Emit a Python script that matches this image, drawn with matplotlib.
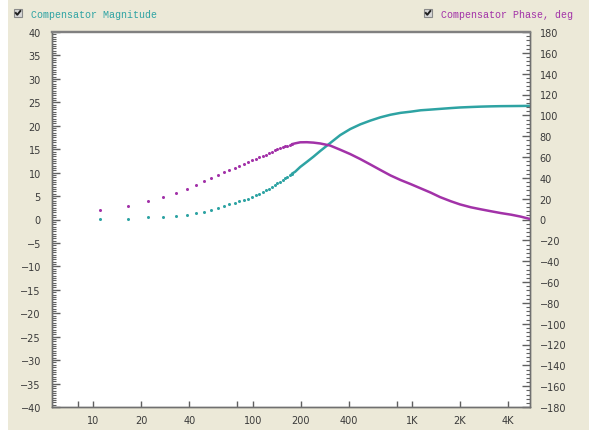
import matplotlib
matplotlib.use("Agg")
import matplotlib.pyplot as plt
from matplotlib.patches import Rectangle
from matplotlib.lines import Line2D

# ---------------- data ----------------
# discrete low-frequency samples (Hz)
freq_dots = [11, 16.5, 22, 27.5, 33, 38.5, 44, 49.5, 55, 60.5, 66, 71.5, 77, 82.5,
             88, 93.5, 99, 104.5, 110, 115.5, 121, 126.5, 132, 137.5, 143,
             148.5, 154, 159.5, 165, 170.5, 176]
mag_dots = [0.1, 0.1, 0.47, 0.6, 0.81, 0.96, 1.32, 1.68, 2.05, 2.5, 2.94, 3.25, 3.55, 3.85,
            4.12, 4.42, 4.8, 5.15, 5.5, 5.87, 6.2, 6.55, 6.9, 7.3, 7.7,
            8.05, 8.4, 8.76, 9.1, 9.42, 9.75]
phase_dots = [9.4, 13.2, 18.0, 21.7, 25.3, 29.4, 33.2, 37.0, 40.3, 42.9, 45.6, 47.4, 49.5, 51.4,
              53.2, 55.0, 56.8, 58.1, 59.7, 61.1, 62.4, 63.9, 65.2, 66.4, 67.5,
              68.6, 69.4, 70.2, 71.0, 71.7, 72.3]

# dense part (samples merge into a solid curve)
freq_line = [176, 184.7, 198.6, 218.8, 240.6, 265, 306.1, 354, 409.5,
             473.6, 547.7, 633.4, 732.6, 847.2, 980, 1133, 1310, 1500, 1753, 2000, 2344,
             2700, 3135, 3600, 4193, 4800, 5500]
mag_line = [9.75, 10.19, 11.2, 12.3, 13.4, 14.6, 16.3, 18.0, 19.3,
            20.3, 21.1, 21.8, 22.35, 22.75, 23.0, 23.3, 23.45, 23.6, 23.77, 23.9, 24.0,
            24.08, 24.14, 24.18, 24.2, 24.22, 24.25]
phase_line = [72.3, 73.1, 74.1, 74.2, 73.8, 73.0, 71.0, 67.0, 62.8,
              58.0, 52.8, 47.5, 42.3, 37.9, 34.0, 29.9, 25.8, 21.5, 17.5, 14.5, 11.7,
              9.8, 7.9, 6.2, 4.6, 2.8, 0.5]

x_ticks = [8, 10, 20, 40, 80, 100, 200, 400, 800, 1000, 2000, 4000]
x_labels = ["", "10", "20", "40", "", "100", "200", "400", "", "1K", "2K", "4K"]
mag_ticks = list(range(-40, 41, 5))
phase_ticks = list(range(-180, 181, 20))
title_mag = "Compensator Magnitude"
title_phase = "Compensator Phase, deg"

TEAL = "#2ea3a3"
PURPLE = "#a232a8"
BG = "#ece9d8"
TXT = "#3a3a3a"

W, H = 589, 431
fig = plt.figure(figsize=(W / 100, H / 100), dpi=100, facecolor="white")
fig.patches.append(Rectangle((8 / W, 0), 1 - 8 / W, 1, transform=fig.transFigure,
                             facecolor=BG, edgecolor="none", zorder=-10))

L, R, T, B = 52, 530, 33, 408
ax = fig.add_axes([L / W, 1 - B / H, (R - L) / W, (B - T) / H])
ax.set_facecolor("white")
ax.set_xscale("log")
ax.set_xlim(5.5, 5500)
ax.set_ylim(-40, 40)
ax2 = ax.twinx()
ax2.set_ylim(-180, 180)

# curves
ax.plot(freq_dots, mag_dots, linestyle="none", marker="o", markersize=2.2,
        markeredgewidth=0, color=TEAL, zorder=3)
ax.plot(freq_line, mag_line, color=TEAL, linewidth=1.8, zorder=3, solid_capstyle="round",
        solid_joinstyle="round")
ax2.plot(freq_dots, phase_dots, linestyle="none", marker="o", markersize=2.2,
         markeredgewidth=0, color=PURPLE, zorder=3)
ax2.plot(freq_line, phase_line, color=PURPLE, linewidth=1.8, zorder=3, solid_capstyle="round",
         solid_joinstyle="round")

# x axis
ax.set_xticks(x_ticks)
ax.set_xticklabels(x_labels)
ax.xaxis.set_minor_locator(matplotlib.ticker.NullLocator())
ax.tick_params(axis="x", direction="in", length=4, width=1, color="#606060",
               labelsize=7, labelcolor=TXT, pad=6)

# left axis
ax.set_yticks(mag_ticks)
ax.set_yticks([v / 2 for v in range(-80, 81)], minor=True)
ax.tick_params(axis="y", which="major", direction="in", length=6, width=1, color="#606060",
               labelsize=7, labelcolor=TXT, pad=8)
ax.tick_params(axis="y", which="minor", direction="in", length=3, width=0.8, color="#606060")

# right axis
ax2.set_yticks(phase_ticks)
ax2.set_yticks(list(range(-180, 181, 4)), minor=True)
ax2.tick_params(axis="y", which="major", direction="in", length=6, width=1, color="#606060",
                labelsize=7, labelcolor=TXT, pad=7)
ax2.tick_params(axis="y", which="minor", direction="in", length=3, width=0.8, color="#606060")
for lab in ax2.get_yticklabels():
    lab.set_horizontalalignment("left")

for a in (ax, ax2):
    for s in ("left", "right", "bottom"):
        a.spines[s].set_color("#707070")
        a.spines[s].set_linewidth(1.0)
    a.spines["top"].set_color("#808080")
    a.spines["top"].set_linewidth(1.6)

# header "legend" with check boxes
def checkbox(x0, y0):
    s = 8
    fig.patches.append(Rectangle((x0 / W, 1 - (y0 + s) / H), s / W, s / H,
                                 transform=fig.transFigure, facecolor="#d8d8d8",
                                 edgecolor="#8a8a8a", linewidth=0.8))
    xs = [x0 + 1.8, x0 + 3.3, x0 + 6.3]
    ys = [y0 + 4.0, y0 + 5.8, y0 + 2.0]
    fig.lines.append(Line2D([v / W for v in xs], [1 - v / H for v in ys],
                            transform=fig.transFigure, color="#202020", linewidth=1.4))

checkbox(14, 10)
checkbox(424, 10)
fig.text(31 / W, 1 - 15 / H, title_mag, color=TEAL, fontsize=7.2,
         family="Liberation Mono", va="center", ha="left")
fig.text(441 / W, 1 - 15 / H, title_phase, color=PURPLE, fontsize=7.2,
         family="Liberation Mono", va="center", ha="left")

fig.savefig("out.png", dpi=100, facecolor=fig.get_facecolor())
